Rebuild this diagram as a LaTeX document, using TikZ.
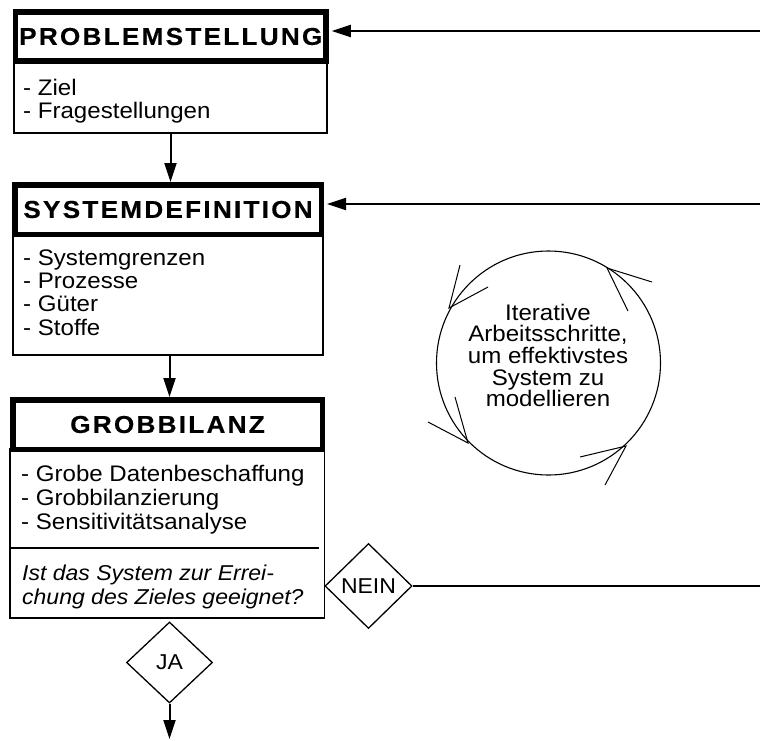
\documentclass[tikz,border=0pt]{standalone}
\usepackage{fontspec}
\setmainfont{Liberation Sans}[FakeStretch=1.07]
\newfontfamily\hfont{Liberation Sans}[FakeStretch=1.07,LetterSpace=9,FakeBold=0.4]
\newfontfamily\cfont{Liberation Sans}[FakeStretch=1.07]
\usetikzlibrary{arrows.meta,shapes.geometric}
\begin{document}
\begin{tikzpicture}[x=1pt,y=-1pt,
  hdr/.style={draw, line width=5.5pt, inner sep=0pt, fill=white, font=\hfont\bfseries\fontsize{24.5}{24.5}\selectfont},
  bodybox/.style={draw, line width=1.4pt, inner sep=0pt},
  txt/.style={anchor=base west, inner sep=0pt, font=\fontsize{22.5}{22.5}\selectfont},
  itxt/.style={anchor=base west, inner sep=0pt, font=\itshape\fontsize{21.5}{21.5}\selectfont},
  flow/.style={line width=2pt, -{Triangle[length=19pt,width=12pt]}},
  dia/.style={diamond, draw, line width=1.3pt, inner sep=0pt, font=\fontsize{21.5}{21.5}\selectfont},
  arrowprong/.style={line width=1pt},
]
\useasboundingbox (0,0) rectangle (760,740);

% Box 1
\node[bodybox, minimum width=313pt, minimum height=72pt] (b1) at (170.5,97) {};
\node[hdr, minimum width=310.5pt, minimum height=49pt] (h1) at (170.75,36.5) {PROBLEMSTELLUNG};
\node[txt] (t11) at (23,95) {- Ziel};
\node[txt] (t12) at (23,118.5) {- Fragestellungen};

% Box 2
\node[bodybox, minimum width=310pt, minimum height=121pt] (b2) at (168,294.5) {};
\node[hdr, minimum width=306.5pt, minimum height=49.5pt] (h2) at (168,209.5) {SYSTEMDEFINITION};
\node[txt] (t21) at (23,265) {- Systemgrenzen};
\node[txt] (t22) at (23,288.4) {- Prozesse};
\node[txt] (t23) at (23,311.8) {- Güter};
\node[txt] (t24) at (23,335.2) {- Stoffe};

% Box 3
\node[bodybox, minimum width=314.5pt, minimum height=169pt] (b3) at (167.25,533.5) {};
\node[hdr, minimum width=309.5pt, minimum height=49.5pt] (h3) at (167.5,424.5) {GROBBILANZ};
\node[txt] (t31) at (21,481) {- Grobe Datenbeschaffung};
\node[txt] (t32) at (21,505) {- Grobbilanzierung};
\node[txt] (t33) at (21,529) {- Sensitivitätsanalyse};
\coordinate (dvl) at (10,548);
\coordinate (dvr) at (319,548);
\draw[line width=1.4pt] (dvl) -- (dvr);
\node[itxt] (q1) at (22,580) {Ist das System zur Errei-};
\node[itxt] (q2) at (22,604) {chung des Zieles geeignet?};

% Diamonds
\node[dia, minimum width=87pt, minimum height=85pt] (nein) at (368.5,586) {NEIN};
\node[dia, minimum width=86pt, minimum height=81pt] (ja) at (169.5,662.5) {JA};

% Flow arrows
\draw[flow] (b1.south) -- (b1.south |- h2.north);
\draw[flow] (b2.south -| ja.north) -- (ja.north |- h3.north);
\coordinate (out) at (169.5,739);
\draw[flow] (ja.south) -- (out);

% Feedback lines
\coordinate (r1) at (760,31);
\coordinate (r2) at (760,204);
\coordinate (r3) at (760,586);
\draw[flow, shorten >=3pt] (r1) -- (r1 -| h1.east);
\draw[flow, shorten >=3pt] (r2) -- (r2 -| h2.east);
\draw[line width=2pt] (nein.east) -- (r3);

% Iteration circle
\node[circle, draw, line width=1.1pt, minimum size=224pt, inner sep=0pt] (cyc) at (548.5,363) {};
\node[align=center, inner sep=0pt, font=\cfont\fontsize{22.5}{21.6}\selectfont] (ctext) at (548,355.5)
  {Iterative\\Arbeitsschritte,\\um effektivstes\\System zu\\modellieren};
\draw[arrowprong] (652,282) -- (607,268) -- (628,311);
\draw[arrowprong] (460,265) -- (449,308) -- (488,287);
\draw[arrowprong] (455,397) -- (468,443) -- (428,422);
\draw[arrowprong] (580,457) -- (626,446) -- (605,485);
\end{tikzpicture}
\end{document}
